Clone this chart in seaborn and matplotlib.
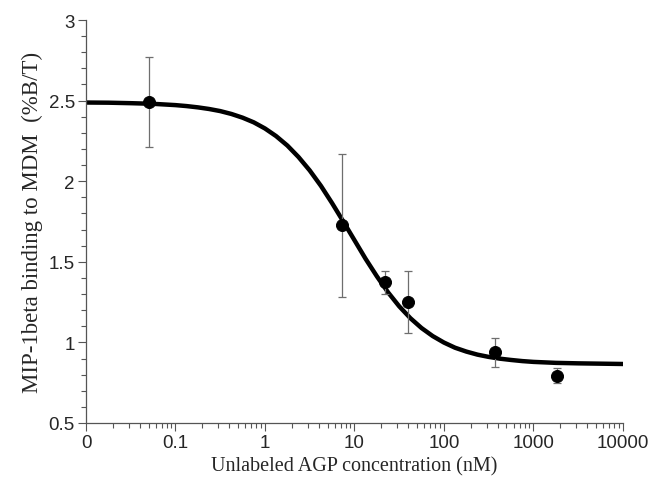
import matplotlib
matplotlib.use('Agg')
import matplotlib.pyplot as plt
from matplotlib.ticker import FixedLocator, LogLocator, NullFormatter, MultipleLocator
import seaborn as sns
import numpy as np
import pandas as pd

# measured points (nM, %B/T) with error bar ends
conc = [0.05, 7.3, 22, 40, 370, 1850]
binding = [2.49, 1.73, 1.375, 1.25, 0.938, 0.79]
err_top = [2.77, 2.168, 1.44, 1.44, 1.025, 0.84]
err_bottom = [2.215, 1.28, 1.30, 1.058, 0.846, 0.75]

# fitted curve (denser where it bends)
curve_conc = [0.01, 0.0178, 0.0316, 0.0562, 0.1, 0.133, 0.178, 0.237, 0.316, 0.422, 0.562, 0.75,
              1, 1.33, 1.78, 2.37, 3.16, 4.22, 5.62, 7.5, 10, 13.3, 17.8, 23.7, 31.6, 42.2,
              56.2, 75, 100, 133, 178, 237, 316, 422, 562, 750, 1000, 1780, 3160, 5620, 10000]
curve_binding = [2.488, 2.487, 2.484, 2.480, 2.472, 2.466, 2.458, 2.448, 2.435, 2.417, 2.394, 2.365,
                 2.327, 2.280, 2.221, 2.150, 2.067, 1.971, 1.864, 1.750, 1.634, 1.519, 1.410, 1.311,
                 1.224, 1.150, 1.089, 1.039, 0.999, 0.967, 0.943, 0.924, 0.910, 0.899, 0.891, 0.884,
                 0.879, 0.873, 0.870, 0.868, 0.866]

x_ticks = [0.01, 0.1, 1, 10, 100, 1000, 10000]
x_ticklabels = ['0', '0.1', '1', '10', '100', '1000', '10000']
y_ticks = [0.5, 1, 1.5, 2, 2.5, 3]
y_ticklabels = ['0.5', '1', '1.5', '2', '2.5', '3']

sns.set_style('ticks')
plt.rcParams['font.family'] = ['Liberation Sans', 'DejaVu Sans']

fig = plt.figure(figsize=(6.55, 4.85), dpi=100)
ax = fig.add_axes([0.1313, 0.1258, 0.8197, 0.8309])

curve = pd.DataFrame({'conc': curve_conc, 'binding': curve_binding})
pts = pd.DataFrame({'conc': conc, 'binding': binding})

line = sns.lineplot(data=curve, x='conc', y='binding', color='black', linewidth=3.2, ax=ax)
ax.lines[0].set_solid_joinstyle('round')
yerr = [np.array(binding) - np.array(err_bottom), np.array(err_top) - np.array(binding)]
ax.errorbar(conc, binding, yerr=yerr, fmt='none', ecolor='#6e6e6e', elinewidth=0.9,
            capsize=3, capthick=0.9, zorder=3)
sns.scatterplot(data=pts, x='conc', y='binding', color='black', s=75, edgecolor='black',
                zorder=4, ax=ax)

ax.set_xscale('log')
ax.set_xlim(0.01, 10000)
ax.set_ylim(0.5, 3)
ax.xaxis.set_major_locator(FixedLocator(x_ticks))
ax.set_xticklabels(x_ticklabels)
ax.xaxis.set_minor_locator(LogLocator(base=10, subs=np.arange(2, 10), numticks=20))
ax.xaxis.set_minor_formatter(NullFormatter())
ax.set_yticks(y_ticks)
ax.set_yticklabels(y_ticklabels)
ax.yaxis.set_minor_locator(MultipleLocator(0.1))

ax.tick_params(axis='both', which='major', labelsize=13.5, length=6, width=0.8,
               color='#555555', pad=2)
ax.tick_params(axis='both', which='minor', length=3.5, width=0.8, color='#555555')
for s in ['left', 'bottom']:
    ax.spines[s].set_linewidth(0.9)
    ax.spines[s].set_color('#555555')
sns.despine(ax=ax)

ax.set_xlabel('Unlabeled AGP concentration (nM)', fontsize=14.5, family='Liberation Serif',
              labelpad=4)
ax.set_ylabel('MIP-1beta binding to MDM  (%B/T)', fontsize=16.5, family='Liberation Serif',
              labelpad=4)

fig.savefig('out.png', dpi=100, facecolor='white')
